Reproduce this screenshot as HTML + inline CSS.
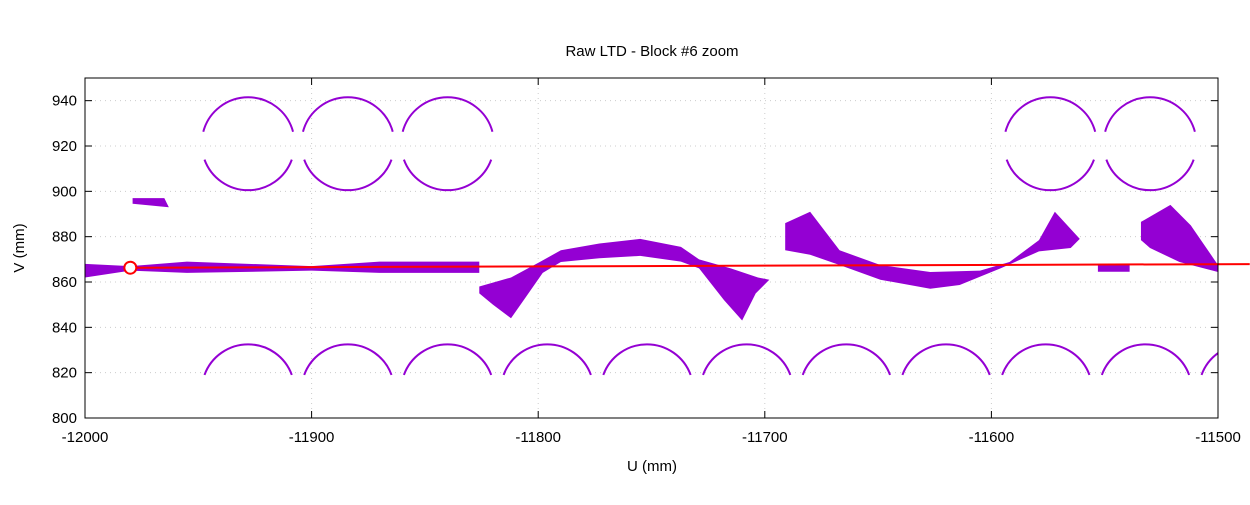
<!DOCTYPE html>
<html><head><meta charset="utf-8"><style>
body{margin:0;background:#fff;font-family:"Liberation Sans",sans-serif}
svg text{font-family:"Liberation Sans",sans-serif;font-size:15px;fill:#000}
</style></head><body>
<svg id="c" width="1250" height="500" xmlns="http://www.w3.org/2000/svg">
<defs><clipPath id="pc"><rect x="85" y="78" width="1133" height="340"/></clipPath></defs>
<text x="652" y="56" text-anchor="middle">Raw LTD - Block #6 zoom</text>
<g id="grid"></g><g id="marks" clip-path="url(#pc)"></g><g id="fit"></g>
<rect x="85" y="78" width="1133" height="340" fill="none" stroke="#000" stroke-width="1"/>
<g id="axes"></g>
<text x="652" y="471" text-anchor="middle">U (mm)</text>
<text x="24" y="248" text-anchor="middle" transform="rotate(-90 24 248)">V (mm)</text>
</svg>
<script>
const xTicks=[-12000,-11900,-11800,-11700,-11600,-11500];
const yTicks=[800,820,840,860,880,900,920,940];
const topCircU=[-11928,-11884,-11840,-11574,-11530];
const topCircV=[921,921,921,921,921];
const botCircU=[-11928,-11884,-11840,-11796,-11752,-11708,-11664,-11620,-11576,-11532,-11488];
const botCircV=[812,812,812,812,812,812,812,812,812,812,812];
const circR=[20.5];
// band outlines (u, v)
const flatU=[-12000,-11980,-11955,-11900,-11870,-11826,-11826,-11870,-11900,-11955,-11980,-12000];
const flatV=[868,867,869,867,869,869,864,864,865,864,865,862];
const archU=[-11826,-11812,-11799,-11790,-11773,-11755,-11737,-11729,-11715,-11703,-11698,-11704,-11710,-11718,-11729,-11737,-11755,-11773,-11790,-11798,-11805,-11812,-11820,-11826];
const archV=[858,862,869,874,877,879,875.5,870,866,862,861,855,843,852,866,869,871.5,870.5,868.8,864,854,844,850,855];
const troughU=[-11691,-11680,-11667,-11649,-11627,-11605,-11592,-11579,-11572,-11561,-11565,-11579,-11596,-11614,-11627,-11649,-11667,-11680,-11691];
const troughV=[886,891,874,867.5,864.4,865,868.8,878.5,891,879,875,873.5,866,858.7,857,861,867.5,872,874];
const rightU=[-11534,-11521,-11512,-11500,-11500,-11517,-11530,-11534];
const rightV=[886.5,894,885,867.5,864.4,868.8,875,878.5];
const blob1U=[-11979,-11965,-11963,-11979];
const blob1V=[897,897,893,894.5];
const blob2U=[-11553,-11539,-11539,-11553];
const blob2V=[868,868,864.5,864.5];
const fitU=[-11980,-11486];
const fitV=[866.3,867.9];
const X=u=>85+(u+12000)*1133/500;
const Y=v=>418-(v-800)*340/150;
const S=1133/500;
const NS='http://www.w3.org/2000/svg';
function mk(t,a,p){const e=document.createElementNS(NS,t);for(const k in a)e.setAttribute(k,a[k]);document.getElementById(p).appendChild(e);return e;}
xTicks.forEach(t=>{
 if(t>-12000&&t<-11500){const g=mk('line',{x1:X(t),x2:X(t),y1:78,y2:418,stroke:'#ccc','stroke-dasharray':'1 4'},'grid');
 
 }
 const l=mk('text',{x:X(t),y:442,'text-anchor':'middle'},'axes');l.textContent=t;
 
 
 mk('line',{x1:X(t),x2:X(t),y1:418,y2:411,stroke:'#000'},'axes');
 mk('line',{x1:X(t),x2:X(t),y1:78,y2:85,stroke:'#000'},'axes');
});
yTicks.forEach(t=>{
 if(t>800){const g=mk('line',{x1:85,x2:1218,y1:Y(t),y2:Y(t),stroke:'#ccc','stroke-dasharray':'1 4'},'grid');
 
 }
 const l=mk('text',{x:77,y:Y(t)+5,'text-anchor':'end'},'axes');l.textContent=t;
 
 
 mk('line',{x1:85,x2:92,y1:Y(t),y2:Y(t),stroke:'#000'},'axes');
 mk('line',{x1:1211,x2:1218,y1:Y(t),y2:Y(t),stroke:'#000'},'axes');
});
function arc(cu,cv,a0,a1){const r=circR[0]*S,cx=X(cu),cy=Y(cv);
 const p1=[cx+r*Math.cos(a0*Math.PI/180),cy+r*Math.sin(a0*Math.PI/180)];
 const p2=[cx+r*Math.cos(a1*Math.PI/180),cy+r*Math.sin(a1*Math.PI/180)];
 const e=mk('path',{d:`M${p1[0]},${p1[1]} A${r},${r} 0 0 1 ${p2[0]},${p2[1]}`,fill:'none',stroke:'#9400d3','stroke-width':2},'marks');
 
 }
topCircU.forEach((u,i)=>{arc(u,topCircV[i],195,345);arc(u,topCircV[i],20,160);});
botCircU.forEach((u,i)=>{arc(u,botCircV[i],200,340);});
function band(U,V,name){const d='M'+U.map((u,i)=>X(u)+','+Y(V[i])).join(' L')+'Z';
 const e=mk('path',{d:d,fill:'#9400d3'},'marks');
 
 }
band(flatU,flatV,'band-flat');
band(archU,archV,'band-arch');
band(troughU,troughV,'band-trough');
band(rightU,rightV,'band-right');
band(blob1U,blob1V,'blob-left');
band(blob2U,blob2V,'blob-right');
const fl=mk('line',{x1:X(fitU[0]),y1:Y(fitV[0]),x2:X(fitU[1]),y2:Y(fitV[1]),stroke:'#f00','stroke-width':2},'fit');


const cm=mk('circle',{cx:X(fitU[0]),cy:Y(fitV[0]),r:6,fill:'#fff',stroke:'#f00','stroke-width':2},'fit');


</script>
</body></html>
